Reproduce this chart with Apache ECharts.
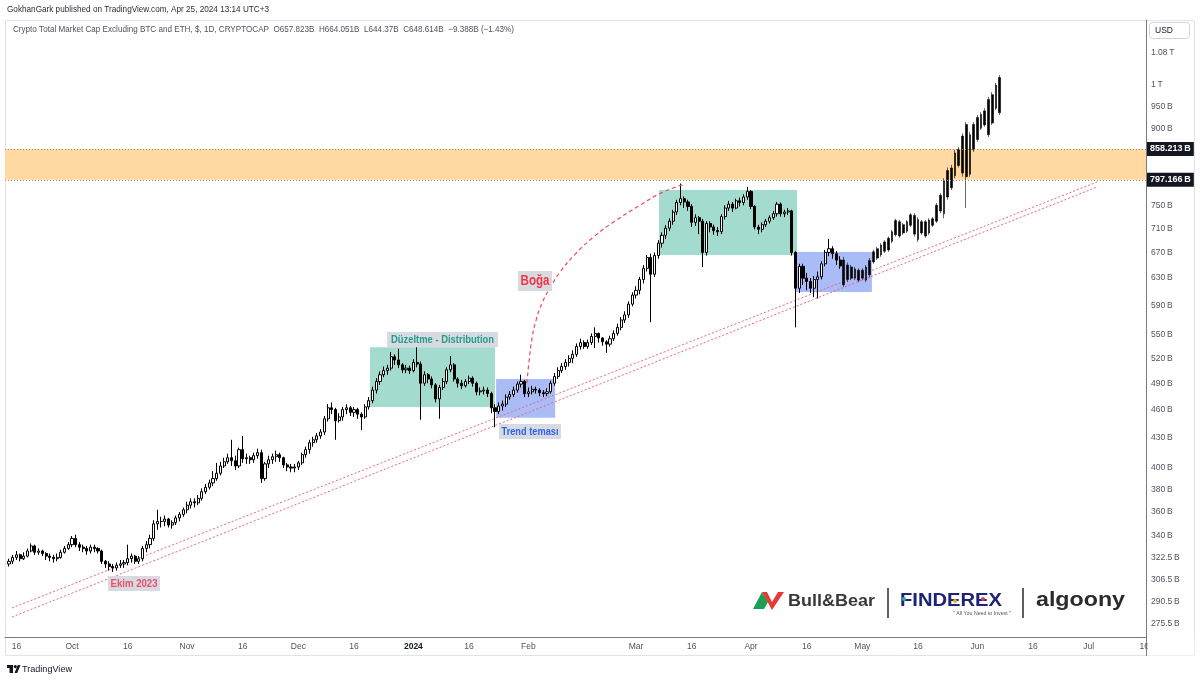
<!DOCTYPE html>
<html><head><meta charset="utf-8">
<script src="https://cdn.jsdelivr.net/npm/echarts@6/dist/echarts.min.js"></script>
<style>html,body{margin:0;padding:0;background:#fff}#main{width:1200px;height:681px}</style>
</head><body><div id="main"></div>
<script>
// ---------------- DATA ----------------
const candleStart = '2023-09-14';
const firstOpen = 318;
const closes = [
 320,323,325,322,324,328,332,327,328,326,324,323,322,323,327,330,333,
 338,333,331,330,328,331,330,328,320,318,316,315,317,318,319,322,324,320,322,330,333,338,350,352,352,354,349,351,355,358,362,
 366,369,368,372,378,382,386,390,395,402,406,410,407,402,418,409,410,408,412,415,390,404,408,411,413,410,403,401,400,401,
 405,413,418,425,428,432,436,450,462,460,448,452,460,462,457,460,455,452,463,470,482,492,500,505,508,522,518,512,506,508,505,
 515,513,490,500,495,488,472,485,492,506,512,495,490,487,492,496,490,480,481,482,478,462,458,464,466,474,477,482,489,492,478,
 480,483,482,479,478,480,490,498,505,510,515,520,525,535,540,535,540,548,552,546,541,538,545,552,560,570,577,592,605,
 612,628,645,662,636,665,685,698,710,722,738,755,762,756,748,720,728,722,670,718,712,706,704,730,745,752,745,758,755,765,775,
 748,712,708,716,722,728,735,752,735,738,740,670,615,648,630,625,615,628,632,652,670,676,668,657.823,648.614
];
const highs = [
 322,325,328,326,327,330,334,333,330,329,327,326,325,326,329,332,335,
 340,341,335,333,332,333,333,331,329,321,320,318,319,321,321,333,326,325,324,332,336,341,353,362,356,357,355,353,357,360,364,
 369,372,372,375,381,385,389,397,405,406,410,414,428,412,420,432,414,412,415,419,418,406,412,414,417,415,411,405,404,404,
 407,415,421,428,431,435,439,453,466,468,462,456,463,466,464,463,462,457,466,474,486,496,504,510,512,528,525,532,514,512,511,
 519,534,516,504,502,498,490,488,496,509,523,514,497,494,495,499,498,492,485,486,485,480,466,468,470,477,481,486,492,500,494,
 485,487,486,484,482,484,493,502,509,514,519,524,530,539,545,543,544,552,560,553,547,543,549,556,565,574,582,596,609,
 618,632,650,666,668,670,690,703,715,727,742,760,790,766,760,752,734,731,726,722,722,716,712,734,750,758,756,762,764,770,784,
 778,750,716,720,726,732,740,756,755,742,745,742,672,652,652,638,630,633,640,656,674,692,680,672,664.051
];
const lows = [
 316,318,321,320,321,323,327,325,325,324,321,320,319,320,322,326,329,
 331,331,328,327,325,326,327,326,318,315,313,312,313,315,315,317,319,318,318,320,327,330,336,345,347,348,347,346,349,352,356,
 359,363,364,366,370,376,380,383,388,393,400,404,402,398,400,405,404,404,405,409,386,388,400,404,406,406,400,397,396,396,
 398,403,410,414,421,425,429,433,447,455,428,446,448,455,453,452,450,438,450,460,467,478,488,497,500,505,512,508,502,502,501,
 503,509,449,487,490,484,468,450,482,489,503,492,485,483,485,489,486,476,476,477,474,456,441,455,459,463,471,474,479,485,474,
 474,477,478,475,474,475,478,487,495,502,506,510,514,522,531,532,532,537,533,540,536,527,535,542,549,556,566,573,589,
 600,606,622,640,567,632,660,678,692,705,716,733,750,745,740,712,714,700,647,665,703,699,697,700,725,740,738,743,748,750,760,
 743,708,700,703,712,718,724,730,730,729,733,665,560,608,620,612,608,602,600,628,648,664,660,650,644.37
];

// projected bars (drawing)
const projStart = '2024-04-26';
const projOpen  = [620,628,630,630,627,630,627,635,655,661,666,672,674,688,699,697,702,705,715,700,691,702,697,702,715,722,740,735,765,782,805,825,810,803,808,857,878,902,909,888,913,946,936];
const projClose = [658,650,647,644,642,642,647,657,671,676,682,687,693,704,723,721,716,721,733,732,725,721,721,724,726,750,768,795,815,820,850,857,885,910,888,910,925,932,940,966,977,1000,1018];
const projLow   = [617,624,627,627,624,627,624,631,652,658,663,669,671,685,696,694,699,702,712,696,687,699,694,699,712,719,736,727,760,778,800,821,803,745,803,852,873,898,905,883,909,942,931];
const projHigh  = [663,654,650,647,645,645,650,661,674,679,685,690,696,707,726,724,719,724,736,736,729,724,724,727,729,754,772,800,821,826,856,862,891,915,894,915,931,937,946,972,983,1005,1024];

const zoneLow = 797.166, zoneHigh = 858.213;
const lastPrice = 648.614;

const xTickDates  = ['2023-09-16','2023-10-01','2023-10-16','2023-11-01','2023-11-16','2023-12-01','2023-12-16','2024-01-01','2024-01-16','2024-02-01','2024-03-01','2024-03-16','2024-04-01','2024-04-16','2024-05-01','2024-05-16','2024-06-01','2024-06-16','2024-07-01','2024-07-16'];
const xTickLabels = ['16','Oct','16','Nov','16','Dec','16','2024','16','Feb','Mar','16','Apr','16','May','16','Jun','16','Jul','16'];
const yTickValues = [275.5,290.5,306.5,322.5,340,360,380,400,430,460,490,520,550,590,630,670,710,750,900,950,1000,1080];

// rectangles drawn on chart
const boxStart = ['2023-12-20T07:00','2024-01-23T07:00','2024-03-07T05:00','2024-04-12T22:00'];
const boxEnd   = ['2024-01-23T00:00','2024-02-08T05:00','2024-04-13T10:00','2024-05-03T14:00'];
const boxLow   = [463, 451, 666, 609.4];
const boxHigh  = [534, 495, 778, 670.6];
const boxKind  = ['teal','blue','teal','blue'];

// trend channel
const trendX = ['2023-09-14T19:30','2024-07-03T07:00'];
const trendUpper = [286.2, 793];
const trendLower = [280.1, 783.5];

// "Boğa" arc
const arcX = ['2024-01-31T14:00','2024-02-01T05:00','2024-02-02T00:00','2024-02-03T02:00','2024-02-04T17:00','2024-02-06T19:00','2024-02-09T12:00','2024-02-13T14:00','2024-02-18T22:00','2024-02-24T07:00','2024-03-02T02:00','2024-03-08T00:00','2024-03-14T05:00'];
const arcY = [490,518,546,570,594,615,639,667,697,722,750,773,789];

// ---------------- BUILD ----------------
const DAY = 86400000;
function ts(s){const p=s.split('T');const d=p[0].split('-').map(Number);let h=0,mi=0;if(p[1]){const t=p[1].split(':').map(Number);h=t[0];mi=t[1];}return Date.UTC(d[0],d[1]-1,d[2],h,mi);}
const t0 = ts(candleStart);
const candles = closes.map((c,i)=>[t0+i*DAY, i===0?firstOpen:closes[i-1], c, lows[i], highs[i]]);
const p0 = ts(projStart);
const proj = projOpen.map((o,i)=>[p0+i*DAY, o, projClose[i], projLow[i], projHigh[i]]);
const xTickTs = xTickDates.map(ts);
function xLabel(v){ let best=-1, bd=Infinity; xTickTs.forEach((t,i)=>{const d=Math.abs(t-v); if(d<bd){bd=d;best=i;}}); return bd < DAY/2 ? xTickLabels[best] : ''; }
const sep16 = ts('2023-09-16');

const FONT = '"Liberation Sans", Arial, sans-serif';
const boxColors = {teal:'#a3dbce', blue:'#aabcf8'};

const areaData = [[{yAxis: zoneLow, itemStyle:{color:'#ffd9a1'}},{yAxis: zoneHigh}]];
boxStart.forEach((s,i)=>{areaData.push([{xAxis: ts(s), yAxis: boxLow[i], itemStyle:{color: boxColors[boxKind[i]]}},{xAxis: ts(boxEnd[i]), yAxis: boxHigh[i]}]);});

const badge = (txt,bg)=>({show:true, position:'end', distance:1, formatter:txt, color:'#fff', backgroundColor:bg, padding:[3,3,2,3], fontSize:9, fontWeight:'bold', fontFamily:FONT});

const mctx = document.createElement('canvas').getContext('2d');
function mw(text,font){mctx.font=font;return mctx.measureText(text).width;}
function txt(text,x,y,font,fill,targetW,align){
  const s = targetW ? targetW/mw(text,font) : 1;
  return {type:'text', x:x, y:y, scaleX:s, z:100, silent:true,
    style:{text:text, font:font, fill:fill, textAlign:align||'left', textVerticalAlign:'middle', align:align||'left', verticalAlign:'middle'}};
}
function tag(text,cx,cy,font,fill,textW,boxW,boxH,lh){
  const m = mw(text,font); const s = textW/m;
  const ph = (boxW/s - m)/2; const pv = (boxH - lh)/2;
  return {type:'text', x:cx, y:cy, scaleX:s, z:100, silent:true,
    style:{text:text, font:font, fill:fill, textAlign:'center', textVerticalAlign:'middle', align:'center', verticalAlign:'middle',
      backgroundColor:'#d7dae1', padding:[pv,ph,pv,ph], lineHeight:lh}};
}

const graphics = [
  {type:'rect', shape:{x:5.5,y:20.5,width:1189,height:635}, style:{fill:null, stroke:'#e0e3eb', lineWidth:1}, z:0, silent:true},
  {type:'line', shape:{x1:1146.5,y1:637,x2:1146.5,y2:656}, style:{stroke:'#787b86', lineWidth:1}, z:0, silent:true},
  {type:'rect', shape:{x:1147.5,y:638.5,width:47,height:17}, style:{fill:'#fff', stroke:null}, z:99, silent:true},
  {type:'rect', shape:{x:1149.5,y:22.5,width:40,height:16, r:3}, style:{fill:'#fff', stroke:'#d1d4dc', lineWidth:1}, z:99, silent:true},
  txt('USD',1155,30.5,'8.5px '+FONT,'#131722',null),
  txt('GokhanGark published on TradingView.com, Apr 25, 2024 13:14 UTC+3',7,10,'9px '+FONT,'#2a2e39',262),
  txt('Crypto Total Market Cap Excluding BTC and ETH, $, 1D, CRYPTOCAP  O657.823B  H664.051B  L644.37B  C648.614B  \u22129.388B (\u22121.43%)',13,29.5,'9px '+FONT,'#50535e',501),
  tag('Düzeltme - Distribution',442.5,339.5,'bold 11px '+FONT,'#1f9e8a',103,111,15,13),
  tag('Boğa',535,281,'bold 14px '+FONT,'#f23645',29,34,20,16),
  tag('Trend teması',530,431.5,'bold 11px '+FONT,'#2f62ee',57,62,15,13),
  tag('Ekim 2023',134,583.5,'bold 11px '+FONT,'#ec5068',47,52,15,13),
  {type:'rect', shape:{x:7,y:665,width:6,height:3}, style:{fill:'#131722'}, z:100, silent:true},
  {type:'rect', shape:{x:9.5,y:665,width:3.5,height:8}, style:{fill:'#131722'}, z:100, silent:true},
  {type:'circle', shape:{cx:15.3,cy:666.6,r:1.6}, style:{fill:'#131722'}, z:100, silent:true},
  {type:'polygon', shape:{points:[[14.5,673],[17.8,665],[20.5,665],[17.2,673]]}, style:{fill:'#131722'}, z:100, silent:true},
  txt('TradingView',22,669.5,'9.5px '+FONT,'#131722',50),
  {type:'polygon', shape:{points:[[753,609],[762,592],[768,602],[764,609]]}, style:{fill:'#1f9d55'}, z:100, silent:true},
  {type:'polygon', shape:{points:[[762,592],[767,592],[772,602],[778,592],[784,592],[772,610]]}, style:{fill:'#e53935'}, z:100, silent:true},
  txt('Bull&Bear',788,601.5,'bold 17px '+FONT,'#3a3a3c',87),
  {type:'line', shape:{x1:888,y1:588,x2:888,y2:618}, style:{stroke:'#2a2a2a', lineWidth:1.5}, z:100, silent:true},
  txt('FINDEREX',900,601,'bold 18px '+FONT,'#1d2473',102),
  {type:'circle', shape:{cx:904,cy:599,r:2}, style:{fill:'#2bb3a0'}, z:101, silent:true},
  {type:'circle', shape:{cx:955,cy:601,r:2}, style:{fill:'#f5a623'}, z:101, silent:true},
  {type:'circle', shape:{cx:983,cy:599,r:2}, style:{fill:'#e0356e'}, z:101, silent:true},
  txt('" All You Need to Invest "',953,613.5,'5px '+FONT,'#555',58),
  {type:'line', shape:{x1:1023,y1:588,x2:1023,y2:618}, style:{stroke:'#2a2a2a', lineWidth:1.5}, z:100, silent:true},
  txt('algoony',1036,600.5,'bold 20px '+FONT,'#2b2b2b',89)
];

const option = {
  animation:false,
  backgroundColor:'#ffffff',
  grid:{left:5, right:54, top:20, bottom:44, containLabel:false},
  xAxis:{
    type:'value', min: sep16 - 3.07*DAY, max: sep16 + 304.45*DAY, scale:true,
    axisLine:{show:true, onZero:false, lineStyle:{color:'#787b86', width:1}},
    axisTick:{show:false}, splitLine:{show:false}, minorTick:{show:false},
    axisLabel:{
      customValues: xTickTs,
      formatter: v => { const l = xLabel(v); return l==='2024' ? '{b|2024}' : l; },
      color:'#50535e', fontSize:8.5, fontFamily:FONT, margin:5, hideOverlap:false,
      showMinLabel:true, showMaxLabel:true,
      rich:{b:{fontWeight:'bold', color:'#131722', fontSize:8.5, fontFamily:FONT}}
    }
  },
  yAxis:{
    type:'log', logBase:10, position:'right', min:267.0, max:1168.3,
    axisLine:{show:true, lineStyle:{color:'#787b86', width:1}},
    axisTick:{show:false}, splitLine:{show:false}, minorTick:{show:false}, minorSplitLine:{show:false},
    axisLabel:{
      customValues: yTickValues,
      formatter: v => v>=1000 ? (+(v/1000).toFixed(2))+'\u2009T' : (+v.toFixed(1))+'\u2009B',
      color:'#50535e', fontSize:8.5, fontFamily:FONT, margin:5
    }
  },
  series:[
    {
      name:'upper', type:'line', symbol:'none', z:3, silent:true,
      data: trendX.map((x,i)=>[ts(x), trendUpper[i]]),
      lineStyle:{color:'#f0657a', width:1, type:[2,2]},
      markArea:{silent:true, data: areaData},
      markLine:{silent:true, symbol:['none','none'], animation:false,
        data:[
          {yAxis: zoneHigh, lineStyle:{color:'#a08a6c', type:[1,2], width:1}, label: badge('858.213\u2009B','#131722')},
          {yAxis: zoneLow, lineStyle:{color:'#a08a6c', type:[1,2], width:1}, label: badge('797.166\u2009B','#131722')},
          {yAxis: lastPrice, lineStyle:{opacity:0}, label: badge('648.614\u2009B','#e0393e')}
        ]}
    },
    {
      name:'lower', type:'line', symbol:'none', z:3, silent:true,
      data: trendX.map((x,i)=>[ts(x), trendLower[i]]),
      lineStyle:{color:'#f0657a', width:1, type:[2,2]}
    },
    {
      name:'TOTAL3', type:'candlestick', z:4, barWidth:2.6,
      data: candles,
      itemStyle:{color:'#ffffff', color0:'#000000', borderColor:'#000000', borderColor0:'#000000', borderWidth:1}
    },
    {
      name:'projection', type:'candlestick', z:4, barWidth:2.2,
      data: proj,
      itemStyle:{color:'#000000', color0:'#000000', borderColor:'#000000', borderColor0:'#000000', borderWidth:0.6}
    },
    {
      name:'arc', type:'line', symbol:'none', smooth:0.5, z:5, silent:true,
      data: arcX.map((x,i)=>[ts(x), arcY[i]]),
      lineStyle:{color:'#ee4a5c', width:1.2, type:[4,3]}
    }
  ],
  graphic: graphics
};
const chart = echarts.init(document.getElementById('main'), null, {renderer:'canvas'});
chart.setOption(option);
</script>
</body></html>
